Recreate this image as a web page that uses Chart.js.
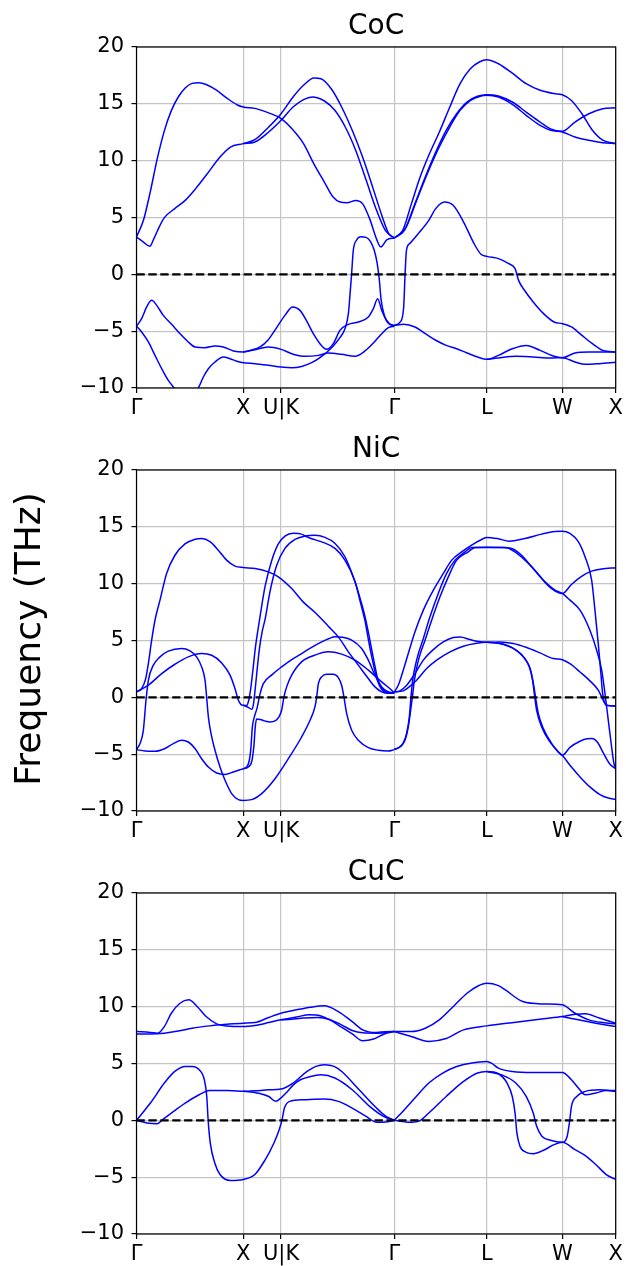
<!DOCTYPE html>
<html>
<head>
<meta charset="utf-8">
<script src="https://cdn.jsdelivr.net/npm/chart.js@4.4.0/dist/chart.umd.min.js"></script>
<style>
  body { margin: 0; width: 626px; height: 1266px; background: #fff; position: relative; overflow: hidden; }
  .panel { position: absolute; left: 0; width: 626px; height: 420px; }
  #ylabel {
    position: absolute; left: -132.5px; top: 618px; width: 320px; height: 42px; line-height: 42px;
    text-align: center; white-space: nowrap; color: #000;
    font-family: 'DejaVu Sans', sans-serif; font-size: 36px;
    transform: rotate(-90deg);
  }
</style>
</head>
<body>
<div class="panel" style="top:0px"><canvas id="coc"></canvas></div>
<div class="panel" style="top:423px"><canvas id="nic"></canvas></div>
<div class="panel" style="top:846px"><canvas id="cuc"></canvas></div>
<div id="ylabel">Frequency (THz)</div>
<script>
// k-path: Γ - X - U|K - Γ - L - W - X (distance along the path)
const pathTicks = [0, 1, 1.3536, 2.4142, 3.2802, 3.9873, 4.4873];
const pathLabels = ['Γ', 'X', 'U|K', 'Γ', 'L', 'W', 'X'];
const freqTicks = [-10, -5, 0, 5, 10, 15, 20];

// CoC branches [k, THz]
const cocCurves = [
  [[0,3.28],[0.065,4.75],[0.13,7.3],[0.195,10.2],[0.26,12.6],[0.326,14.4],[0.391,15.6],[0.456,16.4],[0.521,16.8],[0.586,16.86],[0.652,16.7],[0.749,16.2],[0.847,15.5],[0.945,14.9],[1.0,14.72],[1.108,14.6],[1.238,14.2],[1.354,13.7],[1.466,12.7],[1.564,11.5],[1.662,9.7],[1.76,8.1],[1.841,6.8],[1.906,6.36],[1.971,6.3],[2.053,6.5],[2.118,6.2],[2.183,4.9],[2.248,3.1],[2.287,2.4],[2.346,3.05],[2.4142,3.2]],
  [[0,3.28],[0.065,2.84],[0.124,2.46],[0.163,3.14],[0.212,4.16],[0.261,4.99],[0.358,5.78],[0.456,6.51],[0.554,7.54],[0.652,8.71],[0.782,10.32],[0.88,11.2],[1.0,11.5],[1.108,11.85],[1.238,12.96],[1.354,14.13],[1.466,15.6],[1.564,16.63],[1.662,17.27],[1.727,17.2],[1.825,16.3],[1.922,14.7],[2.02,12.67],[2.118,10.3],[2.216,7.54],[2.297,5.19],[2.362,3.58],[2.4142,3.2]],
  [[1.0,11.5],[1.108,11.64],[1.238,12.52],[1.354,13.55],[1.466,14.72],[1.564,15.37],[1.645,15.6],[1.76,15.25],[1.857,14.43],[1.955,12.96],[2.053,10.9],[2.151,8.27],[2.248,5.63],[2.33,3.87],[2.4142,3.2]],
  [[0,-4.57],[0.048,-3.9],[0.095,-2.87],[0.142,-2.29],[0.189,-2.73],[0.251,-3.61],[0.329,-4.4],[0.407,-5.22],[0.485,-5.95],[0.548,-6.39],[0.641,-6.45],[0.735,-6.3],[0.813,-6.39],[0.907,-6.74],[1.0,-6.83],[1.11,-6.63],[1.234,-6.39],[1.354,-6.6],[1.453,-6.98],[1.578,-7.21],[1.703,-7.13],[1.796,-6.92],[1.921,-7.04],[2.046,-7.21],[2.14,-6.74],[2.218,-6.04],[2.296,-5.22],[2.358,-4.69],[2.4142,-4.57]],
  [[1.0,-6.83],[1.063,-6.69],[1.157,-6.39],[1.234,-5.75],[1.312,-4.69],[1.39,-3.61],[1.462,-2.87],[1.531,-3.17],[1.593,-4.1],[1.656,-5.22],[1.718,-6.1],[1.78,-6.6],[1.843,-6.1],[1.905,-4.93],[1.984,-4.4],[2.077,-4.19],[2.171,-3.75],[2.218,-3.02],[2.258,-2.14],[2.296,-3.17],[2.343,-4.05],[2.39,-4.49],[2.4142,-4.57]],
  [[0,-4.57],[0.048,-5.07],[0.111,-5.95],[0.173,-7.13],[0.236,-8.3],[0.298,-9.33],[0.354,-10.0],[0.47,-11.2],[0.579,-10.0],[0.626,-9.03],[0.673,-8.3],[0.735,-7.71],[0.813,-7.27],[0.876,-7.42],[0.938,-7.65],[1.0,-7.77],[1.11,-7.86],[1.234,-8.0],[1.354,-8.15],[1.453,-8.21],[1.546,-8.1],[1.64,-7.77],[1.734,-7.21],[1.827,-6.45],[1.905,-5.57],[1.952,-4.78],[1.984,-3.46],[2.0,-1.7],[2.014,0],[2.03,2.1],[2.06,3.0],[2.1,3.3],[2.15,3.25],[2.19,2.9],[2.227,2.1],[2.255,0.9],[2.274,-0.5],[2.29,-2.2],[2.32,-3.6],[2.362,-4.34],[2.4142,-4.49]],
  [[2.4142,3.2],[2.493,3.87],[2.574,6.2],[2.656,8.56],[2.737,10.47],[2.835,12.5],[2.933,14.7],[3.03,16.77],[3.128,18.1],[3.21,18.68],[3.2802,18.88],[3.389,18.53],[3.519,17.7],[3.649,16.77],[3.78,16.19],[3.91,15.9],[3.9873,15.8],[4.073,15.3],[4.171,14.13],[4.269,12.67],[4.366,11.8],[4.4873,11.5]],
  [[2.4142,3.2],[2.509,3.87],[2.607,6.2],[2.704,8.56],[2.802,10.76],[2.9,12.67],[2.998,14.13],[3.095,15.16],[3.193,15.66],[3.2802,15.8],[3.389,15.69],[3.519,15.16],[3.649,14.28],[3.78,13.4],[3.877,12.8],[3.9873,12.58],[4.106,13.4],[4.236,14.13],[4.366,14.57],[4.4873,14.66]],
  [[2.4142,3.2],[2.525,4.16],[2.623,6.5],[2.737,9.15],[2.835,11.2],[2.933,12.96],[3.03,14.43],[3.128,15.3],[3.226,15.69],[3.2802,15.75],[3.389,15.6],[3.519,14.96],[3.649,13.99],[3.78,13.1],[3.877,12.67],[3.9873,12.52],[4.106,12.08],[4.236,11.79],[4.366,11.58],[4.4873,11.5]],
  [[2.4142,-4.49],[2.47,-4.19],[2.502,-2.87],[2.515,0],[2.528,2.11],[2.558,2.7],[2.639,3.58],[2.737,4.75],[2.802,5.78],[2.884,6.36],[2.965,6.07],[3.063,4.6],[3.161,2.7],[3.226,1.76],[3.2802,1.58],[3.389,1.38],[3.486,0.94],[3.545,0.5],[3.578,-0.53],[3.633,-1.4],[3.715,-2.43],[3.812,-3.46],[3.91,-4.19],[3.9873,-4.34],[4.073,-4.63],[4.171,-5.37],[4.269,-6.1],[4.366,-6.69],[4.4873,-6.83]],
  [[2.4142,-4.49],[2.502,-4.4],[2.607,-4.63],[2.704,-5.22],[2.802,-5.8],[2.9,-6.25],[2.998,-6.54],[3.095,-6.92],[3.193,-7.27],[3.2802,-7.48],[3.389,-7.13],[3.519,-6.54],[3.649,-6.25],[3.78,-6.69],[3.91,-7.21],[3.9873,-7.33],[4.106,-6.92],[4.236,-6.83],[4.366,-6.83],[4.4873,-6.83]],
  [[3.2802,-7.48],[3.389,-7.36],[3.552,-7.21],[3.715,-7.27],[3.877,-7.36],[3.9873,-7.33],[4.106,-7.71],[4.203,-7.92],[4.334,-7.86],[4.4873,-7.74]]
];

// NiC branches [k, THz]
const nicCurves = [
  [[0,0.48],[0.048,0.77],[0.086,1.65],[0.111,2.97],[0.142,5.03],[0.173,6.78],[0.22,8.55],[0.282,10.9],[0.36,12.5],[0.454,13.5],[0.548,13.9],[0.61,13.98],[0.688,13.7],[0.766,12.95],[0.844,12.07],[0.922,11.54],[1.0,11.42],[1.11,11.33],[1.234,11.04],[1.328,10.6],[1.453,9.57],[1.56,8.4],[1.68,7.4],[1.796,6.26],[1.89,5.32],[1.984,4.0],[2.077,2.83],[2.171,1.65],[2.233,0.92],[2.296,0.48],[2.358,0.35],[2.4142,0.35]],
  [[0,0.48],[0.111,1.07],[0.236,2.09],[0.36,2.91],[0.485,3.56],[0.61,3.85],[0.704,3.7],[0.798,3.03],[0.876,1.95],[0.922,0.77],[0.954,-0.26],[0.979,-0.64],[1.0,-0.7],[1.03,-0.72],[1.05,-0.3],[1.07,0.8],[1.09,2.4],[1.115,4.5],[1.145,6.4],[1.17,7.9],[1.205,9.8],[1.265,12.0],[1.328,13.5],[1.39,14.19],[1.469,14.43],[1.546,14.36],[1.578,14.19],[1.64,13.95],[1.734,13.68],[1.859,13.1],[1.952,12.07],[2.046,10.2],[2.09,8.6],[2.14,6.7],[2.171,5.1],[2.202,3.6],[2.249,1.7],[2.296,0.7],[2.358,0.4],[2.4142,0.4]],
  [[1.0,-0.7],[1.04,-0.85],[1.08,-1.05],[1.095,-0.6],[1.11,0.6],[1.125,2.0],[1.15,4.2],[1.175,5.7],[1.205,6.9],[1.25,9.3],[1.312,11.6],[1.39,13.1],[1.484,13.9],[1.578,14.19],[1.671,14.25],[1.765,14.07],[1.859,13.54],[1.952,12.37],[2.046,10.16],[2.1,8.5],[2.14,7.1],[2.18,5.3],[2.215,3.6],[2.26,1.6],[2.3,0.75],[2.358,0.45],[2.4142,0.4]],
  [[0,-4.6],[0.033,-4.07],[0.064,-2.9],[0.089,-0.26],[0.111,1.5],[0.158,2.83],[0.22,3.56],[0.298,4.06],[0.423,4.29],[0.501,4.08],[0.563,3.56],[0.61,2.68],[0.642,1.5],[0.657,0],[0.673,-1.72],[0.698,-3.19],[0.735,-4.66],[0.782,-6.13],[0.829,-7.3],[0.891,-8.47],[0.954,-9.0],[1.0,-9.07],[1.078,-9.0],[1.172,-8.47],[1.297,-7.16],[1.422,-5.4],[1.546,-3.49],[1.625,-2.02],[1.671,-0.84],[1.687,0],[1.703,1.21],[1.734,1.8],[1.78,2.03],[1.843,2.03],[1.89,1.74],[1.921,1.06],[1.943,0],[1.968,-1.44],[2.015,-2.9],[2.077,-3.78],[2.171,-4.43],[2.265,-4.66],[2.358,-4.72],[2.4142,-4.6]],
  [[0,-4.6],[0.08,-4.72],[0.173,-4.75],[0.267,-4.5],[0.345,-4.07],[0.423,-3.78],[0.485,-3.93],[0.548,-4.5],[0.61,-5.4],[0.673,-6.13],[0.751,-6.66],[0.829,-6.78],[0.907,-6.57],[0.969,-6.37],[1.0,-6.28],[1.031,-6.13],[1.055,-5.6],[1.07,-4.6],[1.085,-2.6],[1.1,-1.85],[1.13,-0.9],[1.157,0.3],[1.188,1.2],[1.27,2.0],[1.359,2.68],[1.45,3.3],[1.546,3.85],[1.64,4.4],[1.734,4.88],[1.8,5.15],[1.859,5.32],[1.93,5.28],[2.015,5.03],[2.108,4.29],[2.171,3.27],[2.233,1.95],[2.296,0.92],[2.358,0.48],[2.4142,0.4]],
  [[1.0,-6.28],[1.05,-6.1],[1.08,-5.6],[1.1,-4.2],[1.112,-2.6],[1.125,-1.9],[1.16,-1.95],[1.2,-2.07],[1.25,-2.17],[1.297,-2.08],[1.334,-1.72],[1.359,-1.14],[1.381,0.04],[1.406,0.92],[1.453,1.95],[1.546,3.12],[1.671,3.71],[1.796,4.0],[1.921,3.8],[2.046,3.27],[2.171,2.39],[2.296,1.36],[2.39,0.62],[2.4142,0.4]],
  [[2.4142,0.48],[2.452,1.08],[2.498,2.39],[2.545,3.86],[2.608,5.77],[2.686,7.67],[2.78,9.43],[2.873,10.9],[2.952,12.07],[3.045,12.8],[3.138,13.4],[3.232,13.89],[3.2802,14.07],[3.388,13.95],[3.49,13.74],[3.638,13.98],[3.794,14.36],[3.919,14.59],[3.9873,14.62],[4.059,14.42],[4.137,13.69],[4.2,12.37],[4.262,10.31],[4.293,7.67],[4.324,4.73],[4.346,2.39],[4.365,0.33],[4.387,-0.55],[4.418,-0.73],[4.4873,-0.76]],
  [[2.4142,-4.57],[2.452,-4.45],[2.498,-4.01],[2.529,-3.19],[2.555,-1.72],[2.57,0],[2.586,1.5],[2.623,3.27],[2.686,5.18],[2.748,7.08],[2.826,9.14],[2.904,10.9],[2.983,12.07],[3.077,12.8],[3.138,13.18],[3.2802,13.18],[3.42,13.18],[3.513,13.1],[3.606,12.5],[3.7,11.48],[3.794,10.45],[3.887,9.57],[3.9873,9.13],[4.075,9.95],[4.168,10.65],[4.262,11.1],[4.356,11.3],[4.4873,11.4]],
  [[2.4142,-4.57],[2.467,-4.37],[2.514,-3.78],[2.545,-2.6],[2.567,-1.14],[2.583,0],[2.602,1.5],[2.64,3.27],[2.702,5.03],[2.764,6.79],[2.842,8.84],[2.92,10.6],[2.998,12.07],[3.107,12.8],[3.17,13.18],[3.2802,13.2],[3.45,13.18],[3.544,12.8],[3.638,12.07],[3.731,11.19],[3.825,10.16],[3.919,9.43],[3.9873,9.14],[4.059,8.55],[4.153,7.67],[4.246,5.9],[4.309,4.14],[4.356,2.39],[4.387,0.33],[4.418,-2.02],[4.449,-4.37],[4.471,-5.83],[4.4873,-6.28]],
  [[2.4142,0.48],[2.467,0.57],[2.53,1.07],[2.608,2.09],[2.686,3.27],[2.78,4.2],[2.873,4.88],[2.967,5.26],[3.03,5.31],[3.123,5.08],[3.217,4.88],[3.2802,4.84],[3.403,4.87],[3.528,4.73],[3.653,4.38],[3.778,3.91],[3.903,3.41],[3.9873,3.31],[4.059,2.96],[4.153,2.23],[4.246,1.45],[4.324,0.63],[4.371,-0.26],[4.402,-0.7],[4.4873,-0.76]],
  [[2.4142,0.48],[2.498,0.57],[2.561,0.98],[2.623,1.5],[2.717,2.53],[2.811,3.27],[2.936,4.0],[3.06,4.5],[3.186,4.76],[3.2802,4.84],[3.403,4.73],[3.528,4.3],[3.622,3.56],[3.678,2.68],[3.709,1.5],[3.725,0.33],[3.747,-1.14],[3.794,-2.6],[3.872,-3.92],[3.95,-4.8],[3.9873,-5.1],[4.059,-5.98],[4.153,-7.0],[4.246,-7.88],[4.34,-8.56],[4.418,-8.86],[4.4873,-8.97]],
  [[3.2802,4.84],[3.435,4.67],[3.559,4.14],[3.638,3.41],[3.691,2.39],[3.722,0.92],[3.741,-0.26],[3.763,-1.43],[3.81,-2.75],[3.888,-4.07],[3.95,-4.8],[3.9873,-5.1],[4.059,-4.4],[4.153,-3.86],[4.22,-3.65],[4.265,-3.63],[4.32,-4.0],[4.371,-4.89],[4.434,-5.89],[4.4873,-6.28]]
];

// CuC branches [k, THz]
const cucCurves = [
  [[0,7.81],[0.13,7.73],[0.2,7.67],[0.261,8.25],[0.326,9.42],[0.407,10.3],[0.489,10.6],[0.57,10.0],[0.652,9.13],[0.75,8.49],[0.847,8.3],[1.0,8.25],[1.108,8.35],[1.238,8.6],[1.353,8.84],[1.5,9.1],[1.62,9.28],[1.72,9.2],[1.82,8.8],[1.92,8.2],[2.02,7.6],[2.118,7.0],[2.22,7.15],[2.32,7.6],[2.4142,7.81]],
  [[0,7.6],[0.13,7.6],[0.261,7.67],[0.391,7.85],[0.52,8.1],[0.684,8.31],[0.847,8.45],[1.0,8.55],[1.108,8.6],[1.238,9.05],[1.353,9.42],[1.5,9.72],[1.63,9.95],[1.76,10.07],[1.89,9.57],[2.02,8.69],[2.118,7.96],[2.248,7.73],[2.33,7.8],[2.4142,7.81]],
  [[1.353,8.84],[1.45,8.9],[1.564,9.0],[1.7,9.05],[1.8,8.9],[1.92,8.4],[2.02,7.9],[2.118,7.7],[2.248,7.67],[2.4142,7.81]],
  [[0,0],[0.13,1.52],[0.261,3.28],[0.358,4.3],[0.456,4.74],[0.521,4.74],[0.587,4.45],[0.635,3.57],[0.658,2.1],[0.671,0],[0.691,-2.0],[0.733,-3.75],[0.782,-4.77],[0.88,-5.3],[1.0,-5.2],[1.108,-4.77],[1.206,-3.45],[1.287,-1.99],[1.336,-0.82],[1.362,0],[1.385,1.08],[1.434,1.67],[1.564,1.81],[1.76,1.87],[1.89,1.67],[2.02,1.08],[2.151,0.35],[2.248,-0.17],[2.33,-0.15],[2.4142,0]],
  [[0,0],[0.098,-0.23],[0.196,-0.29],[0.244,0.06],[0.326,0.64],[0.456,1.52],[0.587,2.25],[0.684,2.63],[0.847,2.63],[1.0,2.55],[1.108,2.45],[1.238,2.1],[1.303,1.67],[1.352,1.96],[1.41,2.5],[1.466,3.1],[1.53,3.55],[1.63,3.86],[1.727,4.0],[1.857,3.72],[2.02,2.69],[2.183,1.23],[2.313,0.35],[2.4142,0]],
  [[1.0,2.55],[1.108,2.6],[1.238,2.68],[1.353,2.75],[1.466,3.28],[1.597,4.3],[1.68,4.75],[1.76,4.89],[1.85,4.75],[1.922,4.3],[2.085,2.69],[2.248,1.08],[2.33,0.4],[2.4142,0]],
  [[2.4142,7.81],[2.574,7.81],[2.704,8.1],[2.835,8.84],[2.965,10.0],[3.095,11.18],[3.193,11.8],[3.2802,12.06],[3.389,11.85],[3.454,11.47],[3.617,10.45],[3.812,10.24],[3.9873,10.16],[4.106,9.42],[4.236,8.84],[4.366,8.6],[4.4873,8.5]],
  [[2.4142,7.81],[2.574,7.37],[2.737,6.94],[2.9,7.2],[3.063,7.96],[3.2802,8.31],[3.552,8.63],[3.812,8.93],[3.9873,9.13],[4.106,9.33],[4.203,9.37],[4.334,9.0],[4.4873,8.55]],
  [[3.9873,9.13],[4.138,8.84],[4.301,8.55],[4.4873,8.25]],
  [[2.4142,0],[2.509,0.94],[2.607,1.96],[2.737,3.28],[2.867,4.16],[2.998,4.74],[3.128,5.03],[3.2802,5.18],[3.324,5.03],[3.389,4.59],[3.519,4.3],[3.715,4.21],[3.9873,4.21],[4.073,3.57],[4.138,2.84],[4.203,2.25],[4.301,2.4],[4.399,2.63],[4.4873,2.63]],
  [[2.4142,0],[2.542,-0.17],[2.639,-0.09],[2.737,0.64],[2.9,2.1],[3.063,3.42],[3.193,4.16],[3.2802,4.3],[3.389,4.1],[3.47,3.28],[3.519,2.1],[3.545,0.64],[3.562,-1.11],[3.591,-2.28],[3.649,-2.81],[3.715,-2.93],[3.812,-2.63],[3.91,-2.14],[3.9873,-1.93],[4.106,-2.58],[4.203,-3.1],[4.301,-3.89],[4.399,-4.77],[4.4873,-5.2]],
  [[3.2802,4.3],[3.421,4.0],[3.552,3.28],[3.649,2.1],[3.715,0.64],[3.747,-0.53],[3.796,-1.4],[3.877,-1.76],[3.9873,-1.93],[4.033,-1.4],[4.057,0],[4.073,1.23],[4.122,2.1],[4.203,2.55],[4.333,2.69],[4.4873,2.55]]
];

Chart.defaults.font.family = "'DejaVu Sans', sans-serif";
Chart.defaults.color = '#000';

// box around the plot area (all four spines)
const framePlugin = {
  id: 'frame',
  afterDatasetsDraw(chart) {
    const a = chart.chartArea;
    const ctx = chart.ctx;
    ctx.save();
    ctx.strokeStyle = '#000';
    ctx.lineWidth = 1.2;
    ctx.strokeRect(a.left, a.top, a.right - a.left, a.bottom - a.top);
    ctx.restore();
  }
};

function makePanel(id, title, curves) {
  const datasets = curves.map(c => ({
    data: c.map(p => ({ x: p[0], y: p[1] })),
    borderColor: '#0000ff',
    borderWidth: 1.5,
    pointRadius: 0,
    cubicInterpolationMode: 'monotone',
    fill: false,
    order: 2
  }));
  // dashed zero line
  datasets.push({
    data: [{ x: pathTicks[0], y: 0 }, { x: pathTicks[pathTicks.length - 1], y: 0 }],
    borderColor: '#000',
    borderWidth: 2.25,
    borderDash: [8.3, 3.6],
    pointRadius: 0,
    fill: false,
    order: 1
  });

  const gridOpts = { color: '#c4c4c4', lineWidth: 1.2, tickColor: '#000', tickLength: 5, tickWidth: 1.2 };

  return new Chart(document.getElementById(id), {
    type: 'line',
    data: { datasets: datasets },
    plugins: [framePlugin],
    options: {
      responsive: true,
      maintainAspectRatio: false,
      animation: false,
      layout: { padding: { left: 0, right: 10.3, top: 0, bottom: 0 } },
      plugins: {
        legend: { display: false },
        tooltip: { enabled: false },
        title: {
          display: true,
          fullSize: false,
          text: title,
          color: '#000',
          font: { size: 28, weight: 'normal', lineHeight: 1.2 },
          padding: { top: 10, bottom: 3.4 }
        }
      },
      scales: {
        x: {
          type: 'linear',
          min: 0,
          max: 4.4873,
          afterBuildTicks: ax => { ax.ticks = pathTicks.map(v => ({ value: v })); },
          afterFit: ax => { ax.height = 32; },
          ticks: { autoSkip: false, maxRotation: 0, padding: 3, font: { size: 21 }, callback: (v, i) => pathLabels[i] },
          grid: gridOpts,
          border: { display: false }
        },
        y: {
          min: -10,
          max: 20,
          afterBuildTicks: ax => { ax.ticks = freqTicks.map(v => ({ value: v })); },
          afterFit: ax => { ax.width = 136.5; },
          ticks: { padding: 7.5, font: { size: 21 }, callback: v => v < 0 ? '\u2212' + Math.abs(v) : String(v) },
          grid: gridOpts,
          border: { display: false }
        }
      }
    }
  });
}

makePanel('coc', 'CoC', cocCurves);
makePanel('nic', 'NiC', nicCurves);
makePanel('cuc', 'CuC', cucCurves);
</script>
</body>
</html>
